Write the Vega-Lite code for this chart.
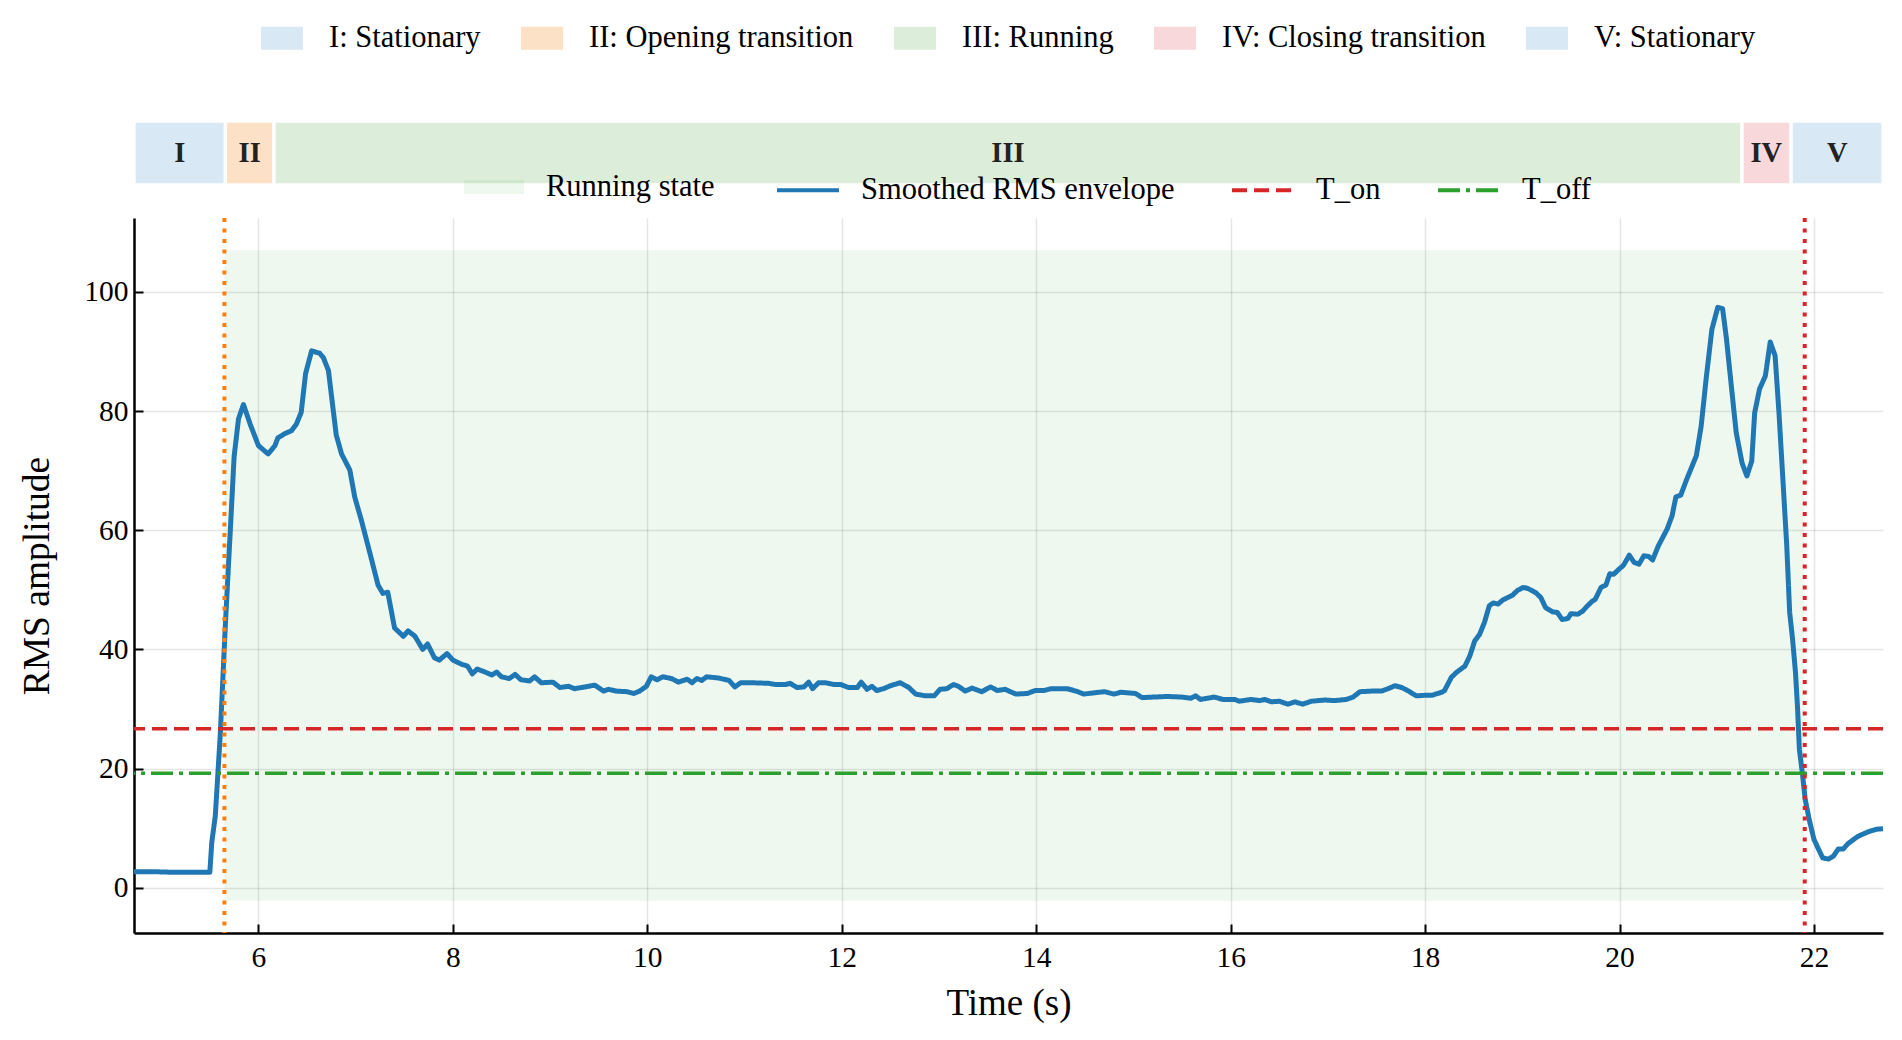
{
  "$schema": "https://vega.github.io/schema/vega-lite/v6.json",
  "background": "white",
  "padding": {"left": 18, "top": 17, "right": 20, "bottom": 10},
  "bounds": "flush",
  "spacing": 33,
  "config": {
    "font": "Liberation Serif",
    "view": {"stroke": null},
    "axis": {"labelFont": "Liberation Serif", "titleFont": "Liberation Serif"},
    "legend": {"labelFont": "Liberation Serif"}
  },
  "resolve": {
    "scale": {"color": "independent", "fill": "independent", "x": "independent"},
    "legend": {"color": "independent", "fill": "independent"}
  },
  "vconcat": [
    {
      "width": 1749,
      "height": 64,
      "data": {
        "values": [
          {"phase": "I", "label": "I: Stationary", "start": 4.72, "end": 5.66, "mid": 5.19},
          {"phase": "II", "label": "II: Opening transition", "start": 5.66, "end": 6.16, "mid": 5.91},
          {"phase": "III", "label": "III: Running", "start": 6.16, "end": 21.26, "mid": 13.71},
          {"phase": "IV", "label": "IV: Closing transition", "start": 21.26, "end": 21.765, "mid": 21.51},
          {"phase": "V", "label": "V: Stationary", "start": 21.765, "end": 22.71, "mid": 22.24}
        ]
      },
      "layer": [
        {
          "mark": {"type": "rect", "stroke": "white", "strokeWidth": 3.3},
          "encoding": {
            "x": {
              "field": "start",
              "type": "quantitative",
              "scale": {"domain": [4.72, 22.71], "nice": false, "zero": false},
              "axis": null
            },
            "x2": {"field": "end"},
            "color": {
              "field": "label",
              "type": "nominal",
              "scale": {
                "domain": ["I: Stationary", "II: Opening transition", "III: Running", "IV: Closing transition", "V: Stationary"],
                "range": ["#d9e8f5", "#fde1c6", "#dcedda", "#f9d8dc", "#d9e8f5"]
              },
              "legend": {
                "title": null,
                "orient": "none",
                "legendX": 127,
                "legendY": -104,
                "direction": "horizontal",
                "columns": 5,
                "symbolType": "M-1,-0.55L1,-0.55L1,0.55L-1,0.55Z",
                "symbolSize": 1764,
                "symbolStrokeWidth": 0,
                "symbolOpacity": 1,
                "labelFontSize": 30.5,
                "labelColor": "black",
                "labelOffset": 26,
                "columnPadding": 40,
                "labelLimit": 0
              }
            }
          }
        },
        {
          "mark": {"type": "text", "fontWeight": "bold", "fontSize": 28.5, "color": "#222222", "baseline": "middle", "align": "center"},
          "encoding": {
            "x": {"field": "mid", "type": "quantitative", "axis": null},
            "text": {"field": "phase"}
          }
        }
      ]
    },
    {
      "width": 1749,
      "height": 715,
      "layer": [
        {
          "data": {"values": [{"region": "Running state", "start": 5.65, "end": 21.9, "low": -2.2, "high": 107}]},
          "mark": {"type": "rect", "opacity": 0.075},
          "encoding": {
            "x": {
              "field": "start",
              "type": "quantitative",
              "scale": {"domain": [4.72, 22.71], "nice": false, "zero": false},
              "axis": {
                "title": "Time (s)",
                "values": [6, 8, 10, 12, 14, 16, 18, 20, 22],
                "format": "d",
                "grid": true,
                "gridColor": "#000000",
                "gridOpacity": 0.1,
                "gridWidth": 1.5,
                "domainColor": "#000000",
                "domainWidth": 2.5,
                "tickColor": "#000000",
                "tickWidth": 2,
                "tickSize": -9,
                "labelFontSize": 29.5,
                "labelColor": "#000000",
                "labelPadding": 19,
                "titleFontSize": 37,
                "titleFontWeight": "normal",
                "titleColor": "#000000",
                "titlePadding": 14
              }
            },
            "x2": {"field": "end"},
            "y": {
              "field": "low",
              "type": "quantitative",
              "scale": {"domain": [-7.6, 112.4], "nice": false, "zero": false},
              "axis": {
                "title": "RMS amplitude",
                "values": [0, 20, 40, 60, 80, 100],
                "format": "d",
                "grid": true,
                "gridColor": "#000000",
                "gridOpacity": 0.1,
                "gridWidth": 1.5,
                "domainColor": "#000000",
                "domainWidth": 2.5,
                "tickColor": "#000000",
                "tickWidth": 2,
                "tickSize": -9,
                "labelFontSize": 29.5,
                "labelColor": "#000000",
                "labelPadding": 15,
                "titleFontSize": 37.5,
                "titleFontWeight": "normal",
                "titleColor": "#000000",
                "titlePadding": 27
              }
            },
            "y2": {"field": "high"},
            "fill": {
              "field": "region",
              "type": "nominal",
              "scale": {"domain": ["Running state"], "range": ["#2ca02c"]},
              "legend": {
                "title": null,
                "orient": "none",
                "legendX": 330,
                "legendY": -61,
                "symbolType": "M-1,-0.23L1,-0.23L1,0.23L-1,0.23Z",
                "symbolSize": 3600,
                "symbolStrokeWidth": 0,
                "symbolOpacity": 0.075,
                "labelFontSize": 30.5,
                "labelColor": "black",
                "labelOffset": 22,
                "labelLimit": 0
              }
            }
          }
        },
        {
          "data": {
            "values": [
              {"series": "Smoothed RMS envelope", "t": 4.72, "v": 2.7},
              {"series": "Smoothed RMS envelope", "t": 4.9, "v": 2.7},
              {"series": "Smoothed RMS envelope", "t": 5.1, "v": 2.6},
              {"series": "Smoothed RMS envelope", "t": 5.3, "v": 2.6},
              {"series": "Smoothed RMS envelope", "t": 5.5, "v": 2.6},
              {"series": "Smoothed RMS envelope", "t": 5.52, "v": 7.6},
              {"series": "Smoothed RMS envelope", "t": 5.556, "v": 12},
              {"series": "Smoothed RMS envelope", "t": 5.607, "v": 25.6},
              {"series": "Smoothed RMS envelope", "t": 5.658, "v": 43.6},
              {"series": "Smoothed RMS envelope", "t": 5.71, "v": 59.8},
              {"series": "Smoothed RMS envelope", "t": 5.75, "v": 72.4},
              {"series": "Smoothed RMS envelope", "t": 5.795, "v": 78.7},
              {"series": "Smoothed RMS envelope", "t": 5.846, "v": 81.1},
              {"series": "Smoothed RMS envelope", "t": 5.915, "v": 77.8},
              {"series": "Smoothed RMS envelope", "t": 6.0, "v": 74.2},
              {"series": "Smoothed RMS envelope", "t": 6.1, "v": 72.8},
              {"series": "Smoothed RMS envelope", "t": 6.17, "v": 74.2},
              {"series": "Smoothed RMS envelope", "t": 6.2, "v": 75.5},
              {"series": "Smoothed RMS envelope", "t": 6.27, "v": 76.2},
              {"series": "Smoothed RMS envelope", "t": 6.34, "v": 76.7},
              {"series": "Smoothed RMS envelope", "t": 6.39, "v": 77.8},
              {"series": "Smoothed RMS envelope", "t": 6.44, "v": 79.8},
              {"series": "Smoothed RMS envelope", "t": 6.485, "v": 86.3},
              {"series": "Smoothed RMS envelope", "t": 6.547, "v": 90.1},
              {"series": "Smoothed RMS envelope", "t": 6.63, "v": 89.7},
              {"series": "Smoothed RMS envelope", "t": 6.667, "v": 89.0},
              {"series": "Smoothed RMS envelope", "t": 6.72, "v": 86.8},
              {"series": "Smoothed RMS envelope", "t": 6.8, "v": 76.0},
              {"series": "Smoothed RMS envelope", "t": 6.855, "v": 72.8},
              {"series": "Smoothed RMS envelope", "t": 6.94, "v": 70.1},
              {"series": "Smoothed RMS envelope", "t": 6.99, "v": 65.6},
              {"series": "Smoothed RMS envelope", "t": 7.06, "v": 61.6},
              {"series": "Smoothed RMS envelope", "t": 7.16, "v": 55.3},
              {"series": "Smoothed RMS envelope", "t": 7.23, "v": 50.8},
              {"series": "Smoothed RMS envelope", "t": 7.28, "v": 49.4},
              {"series": "Smoothed RMS envelope", "t": 7.33, "v": 49.6},
              {"series": "Smoothed RMS envelope", "t": 7.4, "v": 43.6},
              {"series": "Smoothed RMS envelope", "t": 7.49, "v": 42.2},
              {"series": "Smoothed RMS envelope", "t": 7.54, "v": 43.1},
              {"series": "Smoothed RMS envelope", "t": 7.61, "v": 42.2},
              {"series": "Smoothed RMS envelope", "t": 7.69, "v": 40.0},
              {"series": "Smoothed RMS envelope", "t": 7.74, "v": 40.9},
              {"series": "Smoothed RMS envelope", "t": 7.81, "v": 38.6},
              {"series": "Smoothed RMS envelope", "t": 7.86, "v": 38.2},
              {"series": "Smoothed RMS envelope", "t": 7.94, "v": 39.3},
              {"series": "Smoothed RMS envelope", "t": 8.0, "v": 38.2},
              {"series": "Smoothed RMS envelope", "t": 8.09, "v": 37.5},
              {"series": "Smoothed RMS envelope", "t": 8.15, "v": 37.2},
              {"series": "Smoothed RMS envelope", "t": 8.2, "v": 35.9},
              {"series": "Smoothed RMS envelope", "t": 8.25, "v": 36.7},
              {"series": "Smoothed RMS envelope", "t": 8.33, "v": 36.2},
              {"series": "Smoothed RMS envelope", "t": 8.4, "v": 35.7},
              {"series": "Smoothed RMS envelope", "t": 8.45, "v": 36.2},
              {"series": "Smoothed RMS envelope", "t": 8.5, "v": 35.4},
              {"series": "Smoothed RMS envelope", "t": 8.58, "v": 35.1},
              {"series": "Smoothed RMS envelope", "t": 8.64, "v": 35.8},
              {"series": "Smoothed RMS envelope", "t": 8.7, "v": 34.9},
              {"series": "Smoothed RMS envelope", "t": 8.79, "v": 34.7},
              {"series": "Smoothed RMS envelope", "t": 8.84, "v": 35.4},
              {"series": "Smoothed RMS envelope", "t": 8.91, "v": 34.4},
              {"series": "Smoothed RMS envelope", "t": 9.03, "v": 34.5},
              {"series": "Smoothed RMS envelope", "t": 9.1, "v": 33.6},
              {"series": "Smoothed RMS envelope", "t": 9.19, "v": 33.8},
              {"series": "Smoothed RMS envelope", "t": 9.25, "v": 33.4},
              {"series": "Smoothed RMS envelope", "t": 9.36, "v": 33.7},
              {"series": "Smoothed RMS envelope", "t": 9.46, "v": 34.0},
              {"series": "Smoothed RMS envelope", "t": 9.55, "v": 33.0},
              {"series": "Smoothed RMS envelope", "t": 9.6, "v": 33.3},
              {"series": "Smoothed RMS envelope", "t": 9.68, "v": 33.0},
              {"series": "Smoothed RMS envelope", "t": 9.79, "v": 32.9},
              {"series": "Smoothed RMS envelope", "t": 9.86, "v": 32.6},
              {"series": "Smoothed RMS envelope", "t": 9.92, "v": 33.0},
              {"series": "Smoothed RMS envelope", "t": 9.99, "v": 33.8},
              {"series": "Smoothed RMS envelope", "t": 10.04, "v": 35.4},
              {"series": "Smoothed RMS envelope", "t": 10.1, "v": 34.9},
              {"series": "Smoothed RMS envelope", "t": 10.16, "v": 35.4},
              {"series": "Smoothed RMS envelope", "t": 10.25, "v": 35.1},
              {"series": "Smoothed RMS envelope", "t": 10.32, "v": 34.5},
              {"series": "Smoothed RMS envelope", "t": 10.41, "v": 35.0},
              {"series": "Smoothed RMS envelope", "t": 10.46, "v": 34.4},
              {"series": "Smoothed RMS envelope", "t": 10.51, "v": 35.1},
              {"series": "Smoothed RMS envelope", "t": 10.56, "v": 34.8},
              {"series": "Smoothed RMS envelope", "t": 10.61, "v": 35.4},
              {"series": "Smoothed RMS envelope", "t": 10.73, "v": 35.2},
              {"series": "Smoothed RMS envelope", "t": 10.84, "v": 34.8},
              {"series": "Smoothed RMS envelope", "t": 10.9, "v": 33.7},
              {"series": "Smoothed RMS envelope", "t": 10.96, "v": 34.4},
              {"series": "Smoothed RMS envelope", "t": 11.08, "v": 34.4},
              {"series": "Smoothed RMS envelope", "t": 11.25, "v": 34.3},
              {"series": "Smoothed RMS envelope", "t": 11.32, "v": 34.1},
              {"series": "Smoothed RMS envelope", "t": 11.42, "v": 34.1},
              {"series": "Smoothed RMS envelope", "t": 11.47, "v": 34.3},
              {"series": "Smoothed RMS envelope", "t": 11.54, "v": 33.6},
              {"series": "Smoothed RMS envelope", "t": 11.61, "v": 33.7},
              {"series": "Smoothed RMS envelope", "t": 11.66, "v": 34.5},
              {"series": "Smoothed RMS envelope", "t": 11.7, "v": 33.4},
              {"series": "Smoothed RMS envelope", "t": 11.76, "v": 34.4},
              {"series": "Smoothed RMS envelope", "t": 11.83, "v": 34.4},
              {"series": "Smoothed RMS envelope", "t": 11.92, "v": 34.1},
              {"series": "Smoothed RMS envelope", "t": 11.99, "v": 34.1},
              {"series": "Smoothed RMS envelope", "t": 12.07, "v": 33.6},
              {"series": "Smoothed RMS envelope", "t": 12.16, "v": 33.6},
              {"series": "Smoothed RMS envelope", "t": 12.2, "v": 34.5},
              {"series": "Smoothed RMS envelope", "t": 12.26, "v": 33.3},
              {"series": "Smoothed RMS envelope", "t": 12.31, "v": 33.8},
              {"series": "Smoothed RMS envelope", "t": 12.36, "v": 33.1},
              {"series": "Smoothed RMS envelope", "t": 12.43, "v": 33.4},
              {"series": "Smoothed RMS envelope", "t": 12.5, "v": 33.9},
              {"series": "Smoothed RMS envelope", "t": 12.6, "v": 34.4},
              {"series": "Smoothed RMS envelope", "t": 12.69, "v": 33.6},
              {"series": "Smoothed RMS envelope", "t": 12.76, "v": 32.5},
              {"series": "Smoothed RMS envelope", "t": 12.86, "v": 32.2},
              {"series": "Smoothed RMS envelope", "t": 12.95, "v": 32.2},
              {"series": "Smoothed RMS envelope", "t": 13.01, "v": 33.3},
              {"series": "Smoothed RMS envelope", "t": 13.08, "v": 33.4},
              {"series": "Smoothed RMS envelope", "t": 13.15, "v": 34.1},
              {"series": "Smoothed RMS envelope", "t": 13.2, "v": 33.8},
              {"series": "Smoothed RMS envelope", "t": 13.27, "v": 33.0},
              {"series": "Smoothed RMS envelope", "t": 13.34, "v": 33.5},
              {"series": "Smoothed RMS envelope", "t": 13.44, "v": 32.9},
              {"series": "Smoothed RMS envelope", "t": 13.53, "v": 33.7},
              {"series": "Smoothed RMS envelope", "t": 13.6, "v": 33.1},
              {"series": "Smoothed RMS envelope", "t": 13.68, "v": 33.3},
              {"series": "Smoothed RMS envelope", "t": 13.79, "v": 32.5},
              {"series": "Smoothed RMS envelope", "t": 13.91, "v": 32.6},
              {"series": "Smoothed RMS envelope", "t": 13.99, "v": 33.1},
              {"series": "Smoothed RMS envelope", "t": 14.08, "v": 33.1},
              {"series": "Smoothed RMS envelope", "t": 14.15, "v": 33.4},
              {"series": "Smoothed RMS envelope", "t": 14.22, "v": 33.4},
              {"series": "Smoothed RMS envelope", "t": 14.32, "v": 33.4},
              {"series": "Smoothed RMS envelope", "t": 14.41, "v": 33.0},
              {"series": "Smoothed RMS envelope", "t": 14.49, "v": 32.5},
              {"series": "Smoothed RMS envelope", "t": 14.59, "v": 32.7},
              {"series": "Smoothed RMS envelope", "t": 14.7, "v": 32.9},
              {"series": "Smoothed RMS envelope", "t": 14.8, "v": 32.5},
              {"series": "Smoothed RMS envelope", "t": 14.87, "v": 32.8},
              {"series": "Smoothed RMS envelope", "t": 15.02, "v": 32.6},
              {"series": "Smoothed RMS envelope", "t": 15.09, "v": 31.9},
              {"series": "Smoothed RMS envelope", "t": 15.21, "v": 32.0},
              {"series": "Smoothed RMS envelope", "t": 15.35, "v": 32.1},
              {"series": "Smoothed RMS envelope", "t": 15.49, "v": 32.0},
              {"series": "Smoothed RMS envelope", "t": 15.59, "v": 31.8},
              {"series": "Smoothed RMS envelope", "t": 15.64, "v": 32.2},
              {"series": "Smoothed RMS envelope", "t": 15.69, "v": 31.6},
              {"series": "Smoothed RMS envelope", "t": 15.83, "v": 32.0},
              {"series": "Smoothed RMS envelope", "t": 15.92, "v": 31.6},
              {"series": "Smoothed RMS envelope", "t": 16.04, "v": 31.6},
              {"series": "Smoothed RMS envelope", "t": 16.09, "v": 31.3},
              {"series": "Smoothed RMS envelope", "t": 16.21, "v": 31.6},
              {"series": "Smoothed RMS envelope", "t": 16.3, "v": 31.4},
              {"series": "Smoothed RMS envelope", "t": 16.35, "v": 31.6},
              {"series": "Smoothed RMS envelope", "t": 16.42, "v": 31.2},
              {"series": "Smoothed RMS envelope", "t": 16.5, "v": 31.3},
              {"series": "Smoothed RMS envelope", "t": 16.59, "v": 30.8},
              {"series": "Smoothed RMS envelope", "t": 16.66, "v": 31.2},
              {"series": "Smoothed RMS envelope", "t": 16.74, "v": 30.8},
              {"series": "Smoothed RMS envelope", "t": 16.83, "v": 31.3},
              {"series": "Smoothed RMS envelope", "t": 16.97, "v": 31.5},
              {"series": "Smoothed RMS envelope", "t": 17.07, "v": 31.4},
              {"series": "Smoothed RMS envelope", "t": 17.19, "v": 31.6},
              {"series": "Smoothed RMS envelope", "t": 17.26, "v": 32.0},
              {"series": "Smoothed RMS envelope", "t": 17.33, "v": 32.9},
              {"series": "Smoothed RMS envelope", "t": 17.45, "v": 33.0},
              {"series": "Smoothed RMS envelope", "t": 17.55, "v": 33.0},
              {"series": "Smoothed RMS envelope", "t": 17.62, "v": 33.4},
              {"series": "Smoothed RMS envelope", "t": 17.69, "v": 33.9},
              {"series": "Smoothed RMS envelope", "t": 17.76, "v": 33.6},
              {"series": "Smoothed RMS envelope", "t": 17.83, "v": 33.0},
              {"series": "Smoothed RMS envelope", "t": 17.91, "v": 32.2},
              {"series": "Smoothed RMS envelope", "t": 18.0, "v": 32.3},
              {"series": "Smoothed RMS envelope", "t": 18.07, "v": 32.3},
              {"series": "Smoothed RMS envelope", "t": 18.17, "v": 32.8},
              {"series": "Smoothed RMS envelope", "t": 18.2, "v": 33.1},
              {"series": "Smoothed RMS envelope", "t": 18.27, "v": 35.3},
              {"series": "Smoothed RMS envelope", "t": 18.32, "v": 36.1},
              {"series": "Smoothed RMS envelope", "t": 18.41, "v": 37.2},
              {"series": "Smoothed RMS envelope", "t": 18.46, "v": 38.9},
              {"series": "Smoothed RMS envelope", "t": 18.51, "v": 41.4},
              {"series": "Smoothed RMS envelope", "t": 18.56, "v": 42.5},
              {"series": "Smoothed RMS envelope", "t": 18.61, "v": 44.5},
              {"series": "Smoothed RMS envelope", "t": 18.66, "v": 47.3},
              {"series": "Smoothed RMS envelope", "t": 18.7, "v": 47.8},
              {"series": "Smoothed RMS envelope", "t": 18.75, "v": 47.6},
              {"series": "Smoothed RMS envelope", "t": 18.8, "v": 48.3},
              {"series": "Smoothed RMS envelope", "t": 18.85, "v": 48.7},
              {"series": "Smoothed RMS envelope", "t": 18.9, "v": 49.1},
              {"series": "Smoothed RMS envelope", "t": 18.95, "v": 49.9},
              {"series": "Smoothed RMS envelope", "t": 19.01, "v": 50.4},
              {"series": "Smoothed RMS envelope", "t": 19.06, "v": 50.2},
              {"series": "Smoothed RMS envelope", "t": 19.14, "v": 49.5},
              {"series": "Smoothed RMS envelope", "t": 19.19, "v": 48.7},
              {"series": "Smoothed RMS envelope", "t": 19.24, "v": 47.0},
              {"series": "Smoothed RMS envelope", "t": 19.31, "v": 46.3},
              {"series": "Smoothed RMS envelope", "t": 19.36, "v": 46.2},
              {"series": "Smoothed RMS envelope", "t": 19.41, "v": 45.0},
              {"series": "Smoothed RMS envelope", "t": 19.47, "v": 45.2},
              {"series": "Smoothed RMS envelope", "t": 19.5, "v": 46.0},
              {"series": "Smoothed RMS envelope", "t": 19.57, "v": 45.9},
              {"series": "Smoothed RMS envelope", "t": 19.62, "v": 46.4},
              {"series": "Smoothed RMS envelope", "t": 19.67, "v": 47.3},
              {"series": "Smoothed RMS envelope", "t": 19.72, "v": 48.1},
              {"series": "Smoothed RMS envelope", "t": 19.75, "v": 48.4},
              {"series": "Smoothed RMS envelope", "t": 19.81, "v": 50.4},
              {"series": "Smoothed RMS envelope", "t": 19.86, "v": 50.8},
              {"series": "Smoothed RMS envelope", "t": 19.9, "v": 52.7},
              {"series": "Smoothed RMS envelope", "t": 19.94, "v": 52.6},
              {"series": "Smoothed RMS envelope", "t": 19.99, "v": 53.4},
              {"series": "Smoothed RMS envelope", "t": 20.04, "v": 54.1},
              {"series": "Smoothed RMS envelope", "t": 20.1, "v": 55.8},
              {"series": "Smoothed RMS envelope", "t": 20.15, "v": 54.6},
              {"series": "Smoothed RMS envelope", "t": 20.2, "v": 54.3},
              {"series": "Smoothed RMS envelope", "t": 20.25, "v": 55.7},
              {"series": "Smoothed RMS envelope", "t": 20.3, "v": 55.6},
              {"series": "Smoothed RMS envelope", "t": 20.34, "v": 55.0},
              {"series": "Smoothed RMS envelope", "t": 20.4, "v": 57.4},
              {"series": "Smoothed RMS envelope", "t": 20.49, "v": 60.2},
              {"series": "Smoothed RMS envelope", "t": 20.54, "v": 62.4},
              {"series": "Smoothed RMS envelope", "t": 20.58, "v": 65.6},
              {"series": "Smoothed RMS envelope", "t": 20.63, "v": 65.9},
              {"series": "Smoothed RMS envelope", "t": 20.69, "v": 68.5},
              {"series": "Smoothed RMS envelope", "t": 20.74, "v": 70.5},
              {"series": "Smoothed RMS envelope", "t": 20.79, "v": 72.5},
              {"series": "Smoothed RMS envelope", "t": 20.84, "v": 77.5},
              {"series": "Smoothed RMS envelope", "t": 20.89, "v": 85.3},
              {"series": "Smoothed RMS envelope", "t": 20.95, "v": 93.7},
              {"series": "Smoothed RMS envelope", "t": 21.01, "v": 97.4},
              {"series": "Smoothed RMS envelope", "t": 21.06, "v": 97.2},
              {"series": "Smoothed RMS envelope", "t": 21.1, "v": 92.1},
              {"series": "Smoothed RMS envelope", "t": 21.15, "v": 84.2},
              {"series": "Smoothed RMS envelope", "t": 21.2, "v": 76.4},
              {"series": "Smoothed RMS envelope", "t": 21.26, "v": 71.3},
              {"series": "Smoothed RMS envelope", "t": 21.31, "v": 69.1},
              {"series": "Smoothed RMS envelope", "t": 21.36, "v": 71.6},
              {"series": "Smoothed RMS envelope", "t": 21.39, "v": 79.7},
              {"series": "Smoothed RMS envelope", "t": 21.44, "v": 83.7},
              {"series": "Smoothed RMS envelope", "t": 21.5, "v": 85.9},
              {"series": "Smoothed RMS envelope", "t": 21.55, "v": 91.6},
              {"series": "Smoothed RMS envelope", "t": 21.6, "v": 89.3},
              {"series": "Smoothed RMS envelope", "t": 21.64, "v": 79.7},
              {"series": "Smoothed RMS envelope", "t": 21.68, "v": 68.6},
              {"series": "Smoothed RMS envelope", "t": 21.72, "v": 57.4},
              {"series": "Smoothed RMS envelope", "t": 21.75, "v": 46.2},
              {"series": "Smoothed RMS envelope", "t": 21.78, "v": 41.7},
              {"series": "Smoothed RMS envelope", "t": 21.81, "v": 36.1},
              {"series": "Smoothed RMS envelope", "t": 21.83, "v": 30.5},
              {"series": "Smoothed RMS envelope", "t": 21.85, "v": 23.2},
              {"series": "Smoothed RMS envelope", "t": 21.88, "v": 19.3},
              {"series": "Smoothed RMS envelope", "t": 21.91, "v": 14.8},
              {"series": "Smoothed RMS envelope", "t": 21.95, "v": 11.5},
              {"series": "Smoothed RMS envelope", "t": 22.0, "v": 8.1},
              {"series": "Smoothed RMS envelope", "t": 22.04, "v": 6.7},
              {"series": "Smoothed RMS envelope", "t": 22.09, "v": 5.0},
              {"series": "Smoothed RMS envelope", "t": 22.15, "v": 4.8},
              {"series": "Smoothed RMS envelope", "t": 22.2, "v": 5.3},
              {"series": "Smoothed RMS envelope", "t": 22.25, "v": 6.5},
              {"series": "Smoothed RMS envelope", "t": 22.3, "v": 6.5},
              {"series": "Smoothed RMS envelope", "t": 22.35, "v": 7.4},
              {"series": "Smoothed RMS envelope", "t": 22.45, "v": 8.6},
              {"series": "Smoothed RMS envelope", "t": 22.56, "v": 9.4},
              {"series": "Smoothed RMS envelope", "t": 22.64, "v": 9.8},
              {"series": "Smoothed RMS envelope", "t": 22.71, "v": 9.9}
            ]
          },
          "mark": {"type": "line", "strokeWidth": 5, "strokeJoin": "round"},
          "encoding": {
            "x": {"field": "t", "type": "quantitative"},
            "y": {"field": "v", "type": "quantitative"},
            "color": {
              "field": "series",
              "type": "nominal",
              "scale": {
                "domain": ["Smoothed RMS envelope", "T_on", "T_off"],
                "range": ["#1f77b4", "#d62728", "#2ca02c"]
              },
              "legend": {
                "title": null,
                "orient": "none",
                "legendX": 641,
                "legendY": -61,
                "direction": "horizontal",
                "columns": 3,
                "symbolType": "stroke",
                "symbolSize": 3844,
                "symbolStrokeWidth": 4,
                "labelFontSize": 30.5,
                "labelColor": "black",
                "labelOffset": 20,
                "columnPadding": 49,
                "labelLimit": 0,
                "encode": {
                  "symbols": {
                    "update": {
                      "strokeDash": {"signal": "datum.value === 'T_on' ? [15, 7] : datum.value === 'T_off' ? [22, 6, 4, 6] : [1, 0]"}
                    }
                  }
                }
              }
            },
            "strokeDash": {
              "field": "series",
              "type": "nominal",
              "legend": null,
              "scale": {
                "domain": ["Smoothed RMS envelope", "T_on", "T_off"],
                "range": [[1, 0], [15, 7], [22, 6, 4, 6]]
              }
            }
          }
        },
        {
          "data": {
            "values": [
              {"series": "T_on", "value": 26.7},
              {"series": "T_off", "value": 19.2}
            ]
          },
          "mark": {"type": "rule", "strokeWidth": 3.5},
          "encoding": {
            "y": {"field": "value", "type": "quantitative"},
            "color": {"field": "series", "type": "nominal"},
            "strokeDash": {"field": "series", "type": "nominal", "legend": null}
          }
        },
        {
          "data": {"values": [{"t": 5.65}]},
          "mark": {"type": "rule", "color": "#ff7f0e", "strokeWidth": 4, "strokeDash": [4, 6.5]},
          "encoding": {"x": {"field": "t", "type": "quantitative"}}
        },
        {
          "data": {"values": [{"t": 21.905}]},
          "mark": {"type": "rule", "color": "#d62728", "strokeWidth": 4, "strokeDash": [4, 6.5]},
          "encoding": {"x": {"field": "t", "type": "quantitative"}}
        }
      ]
    }
  ]
}
